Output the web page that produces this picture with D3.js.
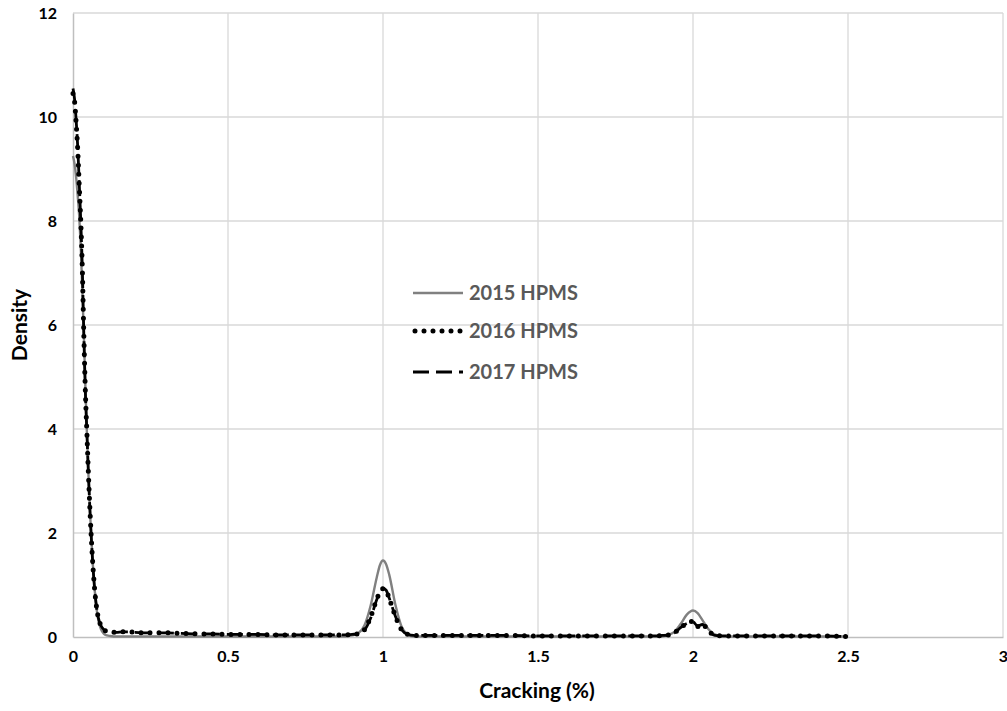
<!DOCTYPE html>
<html>
<head>
<meta charset="utf-8">
<script src="https://cdn.jsdelivr.net/npm/d3@7"></script>
<style>
  body { margin: 0; background: #fff; }
  svg { display: block; font-family: Lato, "Open Sans", sans-serif; }
</style>
</head>
<body>
<svg id="chart" width="1007" height="711"></svg>
<script>
// ---- data ----
const xs = [0, 0.005, 0.01, 0.015, 0.02, 0.025, 0.03, 0.035, 0.04, 0.045, 0.05, 0.055, 0.06, 0.065, 0.07, 0.075, 0.08, 0.09, 0.1, 0.11, 0.12, 0.14, 0.16, 0.18, 0.2, 0.25, 0.3, 0.35, 0.4, 0.45, 0.5, 0.55, 0.6, 0.65, 0.7, 0.75, 0.8, 0.85, 0.88, 0.9, 0.92, 0.94, 0.96, 0.98, 0.99, 1.0, 1.01, 1.02, 1.04, 1.06, 1.08, 1.1, 1.12, 1.15, 1.2, 1.3, 1.4, 1.5, 1.6, 1.7, 1.8, 1.88, 1.9, 1.92, 1.94, 1.96, 1.98, 2.0, 2.015, 2.03, 2.05, 2.07, 2.1, 2.15, 2.2, 2.3, 2.4, 2.5];

const hpms2015 = [9.25, 9.1, 8.85, 8.5, 8.1, 7.5, 6.7, 5.8, 4.8, 3.9, 3.1, 2.4, 1.8, 1.3, 0.9, 0.6, 0.38, 0.15, 0.06, 0.03, 0.02, 0.01, 0.01, 0.01, 0.01, 0.01, 0.01, 0.01, 0.01, 0.01, 0.01, 0.01, 0.01, 0.01, 0.01, 0.01, 0.01, 0.01, 0.01, 0.03, 0.07, 0.22, 0.6, 1.15, 1.38, 1.47, 1.4, 1.2, 0.62, 0.2, 0.05, 0.01, 0.01, 0.01, 0.01, 0.01, 0.01, 0.01, 0.01, 0.01, 0.01, 0.01, 0.01, 0.04, 0.1, 0.25, 0.43, 0.51, 0.46, 0.33, 0.15, 0.05, 0.01, 0.01, 0.01, 0.01, 0.01, 0.01];

const hpms2016 = [10.45, 10.3, 9.9, 9.4, 8.7, 8.0, 7.1, 5.8, 4.7, 3.9, 3.1, 2.4, 1.8, 1.3, 0.9, 0.62, 0.42, 0.22, 0.14, 0.11, 0.1, 0.09, 0.1, 0.1, 0.09, 0.08, 0.08, 0.07, 0.06, 0.06, 0.05, 0.05, 0.05, 0.04, 0.04, 0.04, 0.04, 0.04, 0.04, 0.05, 0.06, 0.14, 0.38, 0.73, 0.86, 0.93, 0.9, 0.74, 0.4, 0.14, 0.05, 0.03, 0.03, 0.03, 0.03, 0.03, 0.03, 0.02, 0.02, 0.02, 0.02, 0.02, 0.03, 0.04, 0.08, 0.18, 0.26, 0.3, 0.2, 0.25, 0.12, 0.03, 0.02, 0.02, 0.02, 0.02, 0.02, 0.01];

const hpms2017 = [10.55, 10.35, 9.95, 9.45, 8.75, 8.0, 7.1, 5.8, 4.7, 3.9, 3.1, 2.4, 1.8, 1.3, 0.9, 0.62, 0.42, 0.22, 0.14, 0.11, 0.1, 0.09, 0.1, 0.1, 0.09, 0.08, 0.08, 0.07, 0.06, 0.06, 0.05, 0.05, 0.05, 0.04, 0.04, 0.04, 0.04, 0.04, 0.04, 0.05, 0.06, 0.13, 0.36, 0.72, 0.86, 0.94, 0.9, 0.75, 0.4, 0.14, 0.05, 0.03, 0.03, 0.03, 0.03, 0.03, 0.03, 0.02, 0.02, 0.02, 0.02, 0.02, 0.03, 0.04, 0.08, 0.18, 0.26, 0.29, 0.21, 0.24, 0.12, 0.03, 0.02, 0.02, 0.02, 0.02, 0.02, 0.01];

const seriesNames = ["2015 HPMS", "2016 HPMS", "2017 HPMS"];
const xTicks = [0, 0.5, 1, 1.5, 2, 2.5, 3];
const xTickLabels = ["0", "0.5", "1", "1.5", "2", "2.5", "3"];
const yTicks = [0, 2, 4, 6, 8, 10, 12];
const yTickLabels = ["0", "2", "4", "6", "8", "10", "12"];
const xTitle = "Cracking (%)";
const yTitle = "Density";

// ---- layout ----
const svg = d3.select("#chart");
const plot = { left: 73, right: 1003, top: 13, bottom: 637 };
const x = d3.scaleLinear().domain([0, 3]).range([plot.left, plot.right]);
const y = d3.scaleLinear().domain([0, 12]).range([plot.bottom, plot.top]);

// gridlines
const grid = svg.append("g");
grid.selectAll("line.h").data(yTicks.filter(d => d > 0)).join("line")
  .attr("x1", plot.left).attr("x2", plot.right)
  .attr("y1", d => y(d)).attr("y2", d => y(d))
  .attr("stroke", "#d9d9d9").attr("stroke-width", 1.3);
grid.selectAll("line.v").data(xTicks.filter(d => d > 0)).join("line")
  .attr("y1", plot.top).attr("y2", plot.bottom)
  .attr("x1", d => x(d)).attr("x2", d => x(d))
  .attr("stroke", "#d9d9d9").attr("stroke-width", 1.3);

// axes
const xAxis = d3.axisBottom(x).tickValues(xTicks).tickSize(0).tickPadding(14)
  .tickFormat((d, i) => xTickLabels[i]);
const gx = svg.append("g").attr("transform", `translate(0,${plot.bottom})`).call(xAxis);
gx.select(".domain").attr("stroke", "#bfbfbf").attr("stroke-width", 1.5);
gx.selectAll("text").attr("font-size", 16).attr("font-weight", 700).attr("fill", "#000")
  .attr("font-family", "Lato, sans-serif");

const yAxis = d3.axisLeft(y).tickValues(yTicks).tickSize(0).tickPadding(16)
  .tickFormat((d, i) => yTickLabels[i]);
const gy = svg.append("g").attr("transform", `translate(${plot.left},0)`).call(yAxis);
gy.select(".domain").attr("stroke", "#bfbfbf").attr("stroke-width", 1.5);
gy.selectAll("text").attr("font-size", 16).attr("font-weight", 700).attr("fill", "#000")
  .attr("font-family", "Lato, sans-serif");

// titles
svg.append("text").attr("x", 537).attr("y", 698).attr("text-anchor", "middle")
  .attr("font-size", 21).attr("font-weight", 700).attr("fill", "#000").text(xTitle);
svg.append("text").attr("transform", "translate(27,325) rotate(-90)").attr("text-anchor", "middle")
  .attr("font-size", 21).attr("font-weight", 700).attr("fill", "#000").text(yTitle);

// series
const styles = [
  { stroke: "#808080", width: 2.4, dash: null, cap: "butt" },
  { stroke: "#000", width: 5, dash: "0 9", cap: "round" },
  { stroke: "#000", width: 2.8, dash: "16 7", cap: "butt" }
];
const seriesVals = [hpms2015, hpms2016, hpms2017];
const line = d3.line().x(d => x(d[0])).y(d => y(d[1])).curve(d3.curveMonotoneX);

seriesVals.forEach((vals, i) => {
  const pts = xs.map((xv, j) => [xv, vals[j]]);
  const st = styles[i];
  svg.append("path").datum(pts).attr("d", line)
    .attr("fill", "none").attr("stroke", st.stroke).attr("stroke-width", st.width)
    .attr("stroke-linecap", st.cap).attr("stroke-linejoin", "round")
    .attr("stroke-dasharray", st.dash);
});

// legend
const legY = [293, 331, 372];
const leg = svg.append("g");
seriesNames.forEach((name, i) => {
  const st = styles[i];
  leg.append("line").attr("x1", i === 1 ? 415 : 413).attr("x2", 463)
    .attr("y1", legY[i]).attr("y2", legY[i])
    .attr("stroke", st.stroke).attr("stroke-width", st.width)
    .attr("stroke-linecap", st.cap).attr("stroke-dasharray", st.dash);
  leg.append("text").attr("x", 469).attr("y", legY[i] + 7)
    .attr("font-size", 20).attr("font-weight", 700).attr("fill", "#595959").text(name);
});
</script>
</body>
</html>
